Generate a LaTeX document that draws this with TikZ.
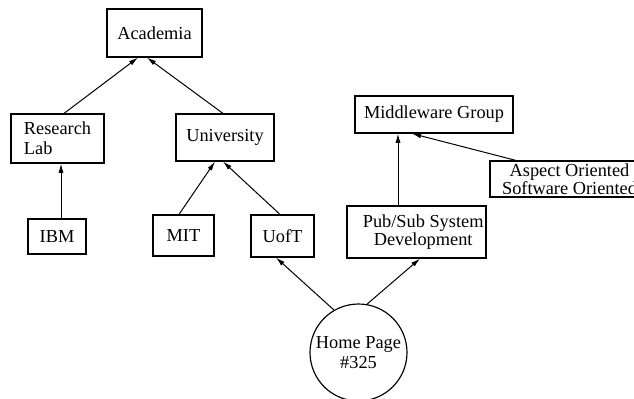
\documentclass[tikz,border=0pt]{standalone}
\usepackage{fontspec}
\setmainfont{Liberation Serif}
\usetikzlibrary{arrows.meta,calc}

\begin{document}
\begin{tikzpicture}[x=0.6pt,y=-0.6pt,
  box/.style={draw,line width=0.7pt,inner sep=0pt,font=\fontsize{11}{12}\selectfont},
  link/.style={line width=0.6pt,-{Latex[length=5.5pt,width=3pt]}}]
\clip (0,0) rectangle (634,398);
\node[box,minimum width=57pt,minimum height=28.8pt] (acad) at (154.5,33) {Academia};
\node[box,minimum width=55.8pt,minimum height=29.4pt,align=left] (rlab) at (57.5,138.5) {Research\\Lab};
\node[box,minimum width=58.8pt,minimum height=28.2pt] (univ) at (225,137.5) {University};
\node[box,minimum width=34.8pt,minimum height=21pt] (ibm) at (57,236.5) {IBM};
\node[box,minimum width=36.6pt,minimum height=24.6pt] (mit) at (183.5,235.5) {MIT};
\node[box,minimum width=37.8pt,minimum height=25.2pt] (uoft) at (282.5,236) {UofT};
\node[box,minimum width=83.4pt,minimum height=31.2pt,align=center,
  font=\fontsize{11}{10.8}\selectfont] (pubsub) at (416.5,232) {\hspace*{8pt}Pub/Sub System\\\hspace*{8pt}Development};
\node[box,minimum width=94.8pt,minimum height=22.2pt] (mware) at (434,114.5) {Middleware Group};
\node[box,minimum width=95.4pt,minimum height=21.6pt,align=center,
  font=\fontsize{11}{9.6}\selectfont] (aspect) at (569.5,179) {Aspect Oriented\\Software Oriented};
\node[box,circle,minimum size=58.2pt,align=center] (home) at (358.5,352.5) {Home Page\\\#325};

% links
\path[draw,link] ($(rlab.north)+(6.5,0)$) -- ($(acad.south)+(-16.5,0)$);
\path[draw,link] ($(univ.north)+(-2,0)$) -- ($(acad.south)+(-7.5,0)$);
\path[draw,link] ($(ibm.north)+(4,0)$) -- ($(rlab.south)+(3.5,0)$);
\path[draw,link] ($(mit.north)+(-4.5,0)$) -- ($(univ.south)+(-10,0)$);
\path[draw,link] ($(uoft.north)+(-2.5,0)$) -- ($(univ.south)+(-2,0)$);
\path[draw,link] (home.120) -- ($(uoft.south)+(-6.5,0)$);
\path[draw,link] (home.80) -- ($(pubsub.south)+(3.5,0)$);
\path[draw,link] ($(pubsub.north)+(-18.5,0)$) -- ($(mware.south)+(-36,0)$);
\path[draw,link] ($(aspect.north)+(-53.5,0)$) -- ($(mware.south)+(-22,0)$);
\end{tikzpicture}
\end{document}
